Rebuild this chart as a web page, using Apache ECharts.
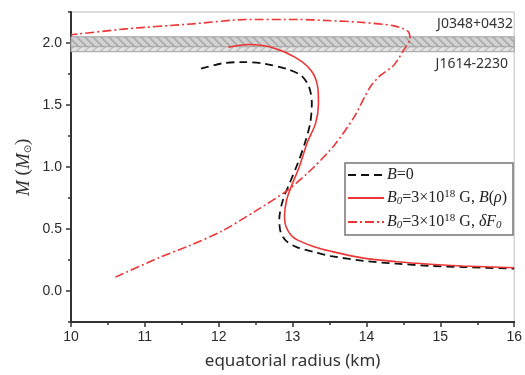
<!DOCTYPE html>
<html>
<head>
<meta charset="utf-8">
<script src="https://cdn.jsdelivr.net/npm/echarts@6/dist/echarts.min.js"></script>
<style>
  html, body { margin: 0; padding: 0; background: #fff; }
  #chart { width: 525px; height: 375px; }
</style>
</head>
<body>
<div id="chart"></div>
<script>
// mass-radius curves, [equatorial radius (km), M (Msun)]
const noFieldCurve = [
  [11.76, 1.793], [12.04, 1.835], [12.31, 1.846], [12.62, 1.833], [12.94, 1.787],
  [13.12, 1.735], [13.22, 1.65], [13.26, 1.52], [13.24, 1.36], [13.17, 1.2],
  [13.07, 1.03], [12.96, 0.87], [12.87, 0.736], [12.82, 0.58], [12.84, 0.47],
  [12.92, 0.4], [13.07, 0.35], [13.29, 0.315], [13.52, 0.282], [13.96, 0.243],
  [14.41, 0.22], [14.86, 0.203], [15.3, 0.193], [16.0, 0.18]
]
const densityFieldCurve = [
  [12.13, 1.966], [12.4, 1.988], [12.71, 1.966], [13.03, 1.886], [13.25, 1.779],
  [13.34, 1.645], [13.35, 1.51], [13.31, 1.35], [13.2, 1.2], [13.09, 1.0],
  [13.0, 0.87], [12.92, 0.736], [12.89, 0.6], [12.91, 0.52], [12.98, 0.45],
  [13.07, 0.41], [13.29, 0.357], [13.52, 0.32], [13.96, 0.265], [14.41, 0.236],
  [14.86, 0.216], [15.3, 0.202], [16.0, 0.188]
]
const freeEnergyCurve = [
  [10.6, 0.112], [11.19, 0.268], [11.6, 0.365], [12.04, 0.482], [12.49, 0.642],
  [12.94, 0.816], [13.29, 1.0], [13.57, 1.18], [13.83, 1.4], [14.05, 1.645],
  [14.19, 1.739], [14.37, 1.82], [14.5, 1.94], [14.59, 2.034], [14.56, 2.095],
  [14.36, 2.14], [13.92, 2.167], [13.47, 2.181], [13.07, 2.19], [12.36, 2.189],
  [11.64, 2.154], [10.75, 2.114], [10.0, 2.066]
]
const seriesNames = ['B=0', 'B0 B(rho)', 'B0 dF0']
const legendLabels = [
  '{i|B}=0',
  '{i|B}{sub|0}=3×10{sup|18} G, {i|B}({i|ρ})',
  '{i|B}{sub|0}=3×10{sup|18} G, {i|δF}{sub|0}'
]
const pulsarNames = ['J0348+0432', 'J1614-2230']
const bandJ0348 = [1.97, 2.05]
const bandJ1614 = [1.93, 2.01]
const majorTicksY = [0, 0.5, 1.0, 1.5, 2.0]
const minorTicksY = [-0.25, 0.25, 0.75, 1.25, 1.75, 2.25]

function hatch(bg, fg, forward) {
  const c = document.createElement('canvas')
  c.width = 8
  c.height = 8
  const ctx = c.getContext('2d')
  ctx.fillStyle = bg
  ctx.fillRect(0, 0, 8, 8)
  ctx.strokeStyle = fg
  ctx.lineWidth = 1.6
  ctx.beginPath()
  if (forward) {
    ctx.moveTo(-2, 10); ctx.lineTo(10, -2)
    ctx.moveTo(-6, 6); ctx.lineTo(6, -6)
    ctx.moveTo(2, 14); ctx.lineTo(14, 2)
  } else {
    ctx.moveTo(-2, -2); ctx.lineTo(10, 10)
    ctx.moveTo(-6, 2); ctx.lineTo(6, 14)
    ctx.moveTo(2, -6); ctx.lineTo(14, 6)
  }
  ctx.stroke()
  return c
}

const red = '#ee3535'
const tickFont = { color: '#2a2a2a', fontFamily: 'Liberation Sans', fontSize: 14 }
const richLegend = {
  i: { fontFamily: 'Liberation Serif', fontStyle: 'italic', fontSize: 16, color: '#222' },
  sub: { fontFamily: 'Liberation Serif', fontStyle: 'italic', fontSize: 11, color: '#222', verticalAlign: 'bottom', padding: [7, 0, 0, 0] },
  sup: { fontFamily: 'Liberation Serif', fontSize: 11, color: '#222', verticalAlign: 'top', padding: [0, 0, 7, 0] }
}

const chart = echarts.init(document.getElementById('chart'), null, { renderer: 'canvas' })

chart.setOption({
  animation: false,
  grid: { left: 71, right: 6, top: 12, bottom: 51, show: true, borderColor: '#bdbdbd', borderWidth: 1 },
  legend: {
    data: seriesNames,
    orient: 'vertical',
    left: 345,
    top: 163,
    padding: [4, 6, 4, 2],
    itemGap: 6,
    itemWidth: 36,
    itemHeight: 16,
    borderColor: '#777',
    borderWidth: 1.5,
    backgroundColor: '#fff',
    itemStyle: { opacity: 0 },
    formatter: (name) => legendLabels[seriesNames.indexOf(name)],
    textStyle: { fontFamily: 'Liberation Serif', fontSize: 16, color: '#222', padding: [0, 0, 0, -2], rich: richLegend }
  },
  xAxis: {
    type: 'value',
    min: 10,
    max: 16,
    interval: 1,
    name: 'equatorial radius (km)',
    nameLocation: 'middle',
    nameGap: 31,
    nameTextStyle: { fontFamily: 'Noto Sans', fontSize: 17, color: '#333' },
    axisLine: { onZero: false, lineStyle: { color: '#333', width: 2 } },
    axisTick: { length: 5, lineStyle: { color: '#333', width: 1.5 } },
    minorTick: { show: true, splitNumber: 2, length: 3, lineStyle: { color: '#333', width: 1.5 } },
    axisLabel: Object.assign({ margin: 8 }, tickFont),
    splitLine: { show: false }
  },
  yAxis: [
    {
      type: 'value',
      min: -0.25,
      max: 2.25,
      interval: 0.25,
      axisLine: { onZero: false, lineStyle: { color: '#333', width: 2 } },
      axisTick: { customValues: majorTicksY, length: 5, lineStyle: { color: '#333', width: 1.5 } },
      axisLabel: Object.assign({ customValues: majorTicksY, margin: 9, formatter: (v) => v.toFixed(1) }, tickFont),
      splitLine: { show: false }
    },
    {
      type: 'value',
      min: -0.25,
      max: 2.25,
      interval: 0.25,
      position: 'left',
      axisLine: { show: false },
      axisTick: { customValues: minorTicksY, length: 3, lineStyle: { color: '#333', width: 1.5 } },
      axisLabel: { show: false },
      splitLine: { show: false }
    }
  ],
  graphic: [
    {
      type: 'text',
      right: 12,
      top: 17,
      style: { text: pulsarNames[0], fontFamily: 'Noto Sans', fontSize: 14, fill: '#333' }
    },
    {
      type: 'text',
      right: 17,
      top: 57,
      style: { text: pulsarNames[1], fontFamily: 'Noto Sans', fontSize: 14, fill: '#333' }
    },
    {
      type: 'text',
      x: 14,
      y: 196,
      rotation: Math.PI / 2,
      style: {
        text: '{i|M} ({i|M}{sun|⊙})',
        fontFamily: 'Liberation Serif',
        fontSize: 19,
        fill: '#333',
        rich: {
          i: { fontFamily: 'Liberation Serif', fontStyle: 'italic', fontSize: 19, fill: '#333' },
          sun: { fontFamily: 'DejaVu Sans', fontSize: 10, fill: '#333', verticalAlign: 'bottom', padding: [8, 0, 0, 0] }
        }
      }
    }
  ],
  series: [
    {
      name: 'bands',
      type: 'line',
      data: [],
      z: 1,
      markArea: {
        silent: true,
        itemStyle: { borderColor: '#a0a0a0', borderWidth: 1 },
        data: [
          [
            { yAxis: bandJ1614[0], itemStyle: { color: { image: hatch('#e4e4e4', '#c2c2c2', true), repeat: 'repeat' } } },
            { yAxis: bandJ1614[1] }
          ],
          [
            { yAxis: bandJ0348[0], itemStyle: { color: { image: hatch('#d2d2d2', '#a9a9a9', false), repeat: 'repeat' } } },
            { yAxis: bandJ0348[1] }
          ]
        ]
      }
    },
    {
      name: seriesNames[0],
      type: 'line',
      data: noFieldCurve,
      symbol: 'none',
      smooth: 0.3,
      z: 3,
      color: '#111',
      lineStyle: { color: '#111', width: 1.8, type: [8, 5] }
    },
    {
      name: seriesNames[1],
      type: 'line',
      data: densityFieldCurve,
      symbol: 'none',
      smooth: 0.3,
      z: 4,
      color: red,
      lineStyle: { color: red, width: 1.6 }
    },
    {
      name: seriesNames[2],
      type: 'line',
      data: freeEnergyCurve,
      symbol: 'none',
      smooth: 0.25,
      z: 5,
      color: red,
      lineStyle: { color: red, width: 1.6, type: [9, 3, 2, 3] }
    }
  ]
})
</script>
</body>
</html>
